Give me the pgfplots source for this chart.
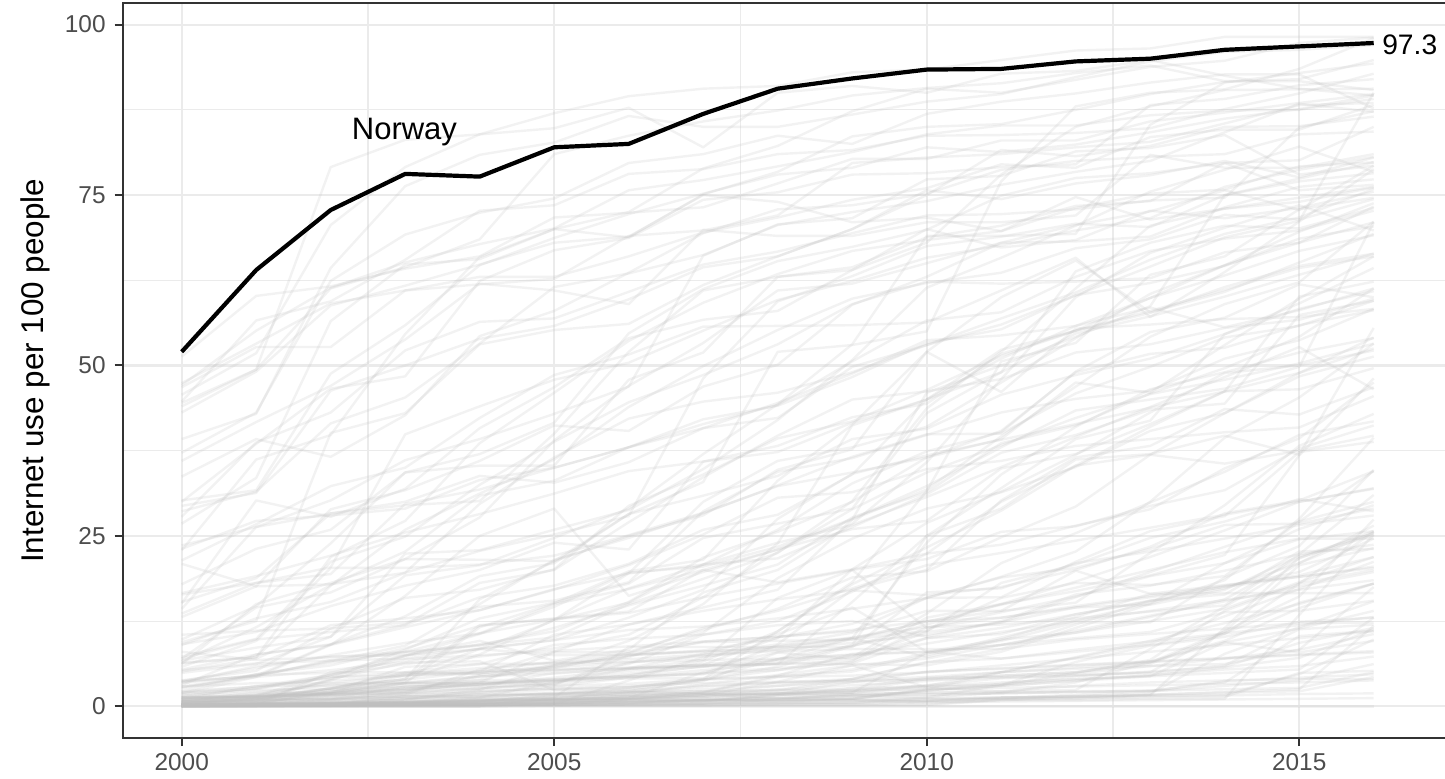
\documentclass[border=0pt]{standalone}
\usepackage{pgfplots}
\usepackage{pgfplotstable}
\pgfplotsset{compat=1.18}
\usepackage{fontspec}
\setmainfont{Liberation Sans}
\definecolor{g92}{HTML}{EBEBEB}
\definecolor{g20}{HTML}{333333}
\definecolor{g30}{HTML}{4D4D4D}
\definecolor{rgray}{HTML}{BEBEBE}
\pgfplotstableread{
name y00 y01 y02 y03 y04 y05 y06 y07 y08 y09 y10 y11 y12 y13 y14 y15 y16
ISL 44.5 49.4 79.1 83.1 83.9 87.0 89.5 90.6 91.0 93.0 93.4 94.8 96.2 96.5 98.2 98.2 98.2
SWE 45.7 51.8 70.6 79.1 83.9 84.8 87.8 82.0 90.0 91.0 90.0 92.8 93.2 94.8 92.5 90.6 89.6
DNK 39.2 42.9 64.3 76.3 80.9 82.7 86.6 85.0 85.0 86.8 88.7 89.8 92.3 94.6 96.0 96.3 97.0
FIN 37.2 43.1 62.4 69.2 72.4 74.5 79.7 81.0 83.7 82.5 86.9 88.7 89.9 91.5 92.7 92.7 87.7
NLD 44.0 49.4 61.3 64.4 68.5 81.0 83.7 85.8 87.4 89.6 90.7 91.4 92.9 94.0 91.7 91.7 90.4
USA 43.1 49.1 58.8 61.7 64.8 68.0 68.9 75.0 74.0 71.0 71.7 69.7 74.7 71.4 73.0 74.6 76.2
CAN 51.3 60.2 61.6 64.2 66.0 71.7 72.4 73.2 76.7 80.3 80.3 83.0 83.0 85.8 87.1 88.5 89.8
GBR 26.8 33.5 56.5 64.8 65.6 70.0 68.8 75.1 78.4 83.6 85.0 85.4 87.5 89.8 91.6 92.0 94.8
DEU 30.2 31.7 48.8 55.9 64.7 68.7 72.2 75.2 78.0 79.0 82.0 81.3 82.4 84.2 86.2 87.6 89.6
FRA 14.3 26.3 30.2 36.1 39.2 42.9 46.9 66.1 70.7 71.6 77.3 77.8 81.4 81.9 83.8 78.0 79.3
JPN 30.0 38.5 46.6 48.4 62.4 66.9 68.7 74.3 75.4 78.0 78.2 79.1 79.5 88.2 89.1 91.1 92.0
KOR 44.7 56.6 59.4 65.5 72.7 73.5 78.1 78.8 81.0 81.6 83.7 83.8 84.1 84.8 87.6 89.9 92.8
AUS 46.8 52.7 52.7 61.0 63.0 63.0 66.0 69.5 71.7 74.3 76.0 79.5 79.0 83.5 84.6 84.6 88.2
NZL 47.4 53.2 59.1 61.0 61.9 62.7 69.0 69.8 72.0 79.7 80.5 81.0 82.0 82.8 85.5 88.2 88.5
ESP 13.6 18.1 20.4 39.9 44.0 47.9 50.4 55.1 59.6 62.4 65.8 67.6 69.8 71.6 76.2 78.7 80.6
ITA 23.1 27.2 28.0 29.0 33.2 35.0 38.0 40.8 44.5 48.8 53.7 54.4 55.8 58.5 55.6 58.1 61.3
PRT 16.4 18.1 19.4 29.7 31.8 35.0 38.0 42.1 44.1 48.3 53.3 55.3 60.3 62.1 64.6 68.6 70.4
GRC 9.1 10.9 14.7 17.7 20.0 24.0 23.0 35.9 38.2 42.4 44.4 51.7 55.1 59.9 63.2 66.8 69.1
POL 7.3 9.9 21.2 24.9 32.5 38.8 44.6 48.6 53.1 59.0 62.3 62.0 62.3 62.8 66.6 68.0 73.3
CZE 9.8 14.7 23.9 34.3 35.3 35.3 47.9 51.9 63.0 64.4 68.8 70.5 73.4 74.1 79.7 75.7 76.5
HUN 7.0 14.5 16.7 21.6 27.7 39.0 47.0 53.3 61.0 62.0 65.0 68.0 70.6 72.6 75.7 72.8 79.3
RUS 2.0 2.9 4.1 8.3 12.9 15.2 18.0 24.7 26.8 29.0 43.0 49.0 63.8 68.0 70.5 70.1 73.1
UKR 0.7 1.2 1.9 3.1 3.5 3.7 4.5 6.6 11.0 17.9 23.3 28.7 35.3 41.0 46.2 48.9 52.5
TUR 3.8 5.2 11.4 12.3 14.6 15.5 18.2 28.6 34.4 36.4 39.8 43.1 45.1 46.3 51.0 53.7 58.3
BRA 2.9 4.5 9.1 13.2 19.1 21.0 28.2 30.9 33.8 39.2 40.7 45.7 48.6 51.0 54.6 58.3 60.9
MEX 5.1 7.0 11.9 12.9 14.1 17.2 19.5 20.8 21.7 26.3 31.1 37.2 39.8 43.5 44.4 57.4 59.5
ARG 7.0 9.8 10.9 11.9 16.0 17.7 20.9 25.9 28.1 34.0 45.0 51.0 55.8 59.9 64.7 68.0 71.0
CHL 16.6 19.1 22.1 25.5 28.2 31.2 34.5 35.9 37.3 41.6 45.0 52.3 55.1 58.0 61.1 64.3 66.0
COL 2.2 2.9 4.6 7.4 9.1 11.0 15.3 21.8 25.6 30.0 36.5 40.4 49.0 51.7 52.6 55.9 58.1
PER 3.1 7.6 9.0 11.6 14.1 17.1 20.7 25.2 30.6 31.4 34.8 36.0 38.2 39.2 40.2 40.9 45.5
VEN 3.4 4.6 4.9 7.5 8.4 12.6 15.2 20.8 25.9 32.7 37.4 40.2 49.1 54.9 57.0 61.9 60.0
CHN 1.8 2.6 4.6 6.2 7.3 8.5 10.5 16.0 22.6 28.9 34.3 38.3 42.3 45.8 47.9 50.3 53.2
IND 0.5 0.7 1.5 1.7 2.0 2.4 2.8 4.0 4.4 5.1 7.5 10.1 12.6 15.1 21.0 26.0 29.5
IDN 0.9 2.0 2.1 2.4 2.6 3.6 4.8 5.8 7.9 6.9 10.9 12.3 14.5 14.9 17.1 22.0 25.4
PAK 1.3 1.3 2.6 5.0 6.2 6.3 6.5 6.8 7.0 7.5 8.0 9.0 10.0 10.9 13.8 14.0 15.5
BGD 0.1 0.1 0.1 0.2 0.2 0.2 1.0 1.8 2.5 3.1 3.7 4.5 5.0 6.6 9.6 14.4 18.0
NGA 0.1 0.3 0.3 0.6 1.3 3.5 5.5 6.8 15.9 20.0 11.5 13.8 16.1 19.1 21.0 24.5 25.7
ETH 0.0 0.0 0.1 0.1 0.2 0.2 0.3 0.4 0.5 0.5 0.8 1.1 1.5 1.9 7.7 11.6 15.4
KEN 0.3 0.6 1.2 2.9 3.0 3.1 7.5 8.0 8.7 10.0 7.2 9.8 13.1 16.5 16.6 16.6 16.6
ZAF 5.3 6.3 6.7 7.0 8.4 7.5 7.6 8.1 8.4 10.0 24.0 34.0 41.0 46.5 49.0 51.9 54.0
EGY 0.6 0.8 2.7 4.0 11.9 12.8 13.7 16.0 18.0 20.0 21.6 25.6 26.4 29.4 31.7 37.8 41.2
MAR 0.7 1.4 2.4 3.4 11.6 15.1 19.8 21.5 33.1 41.3 52.0 46.1 55.4 56.0 56.8 57.1 58.3
DZA 0.5 0.6 1.6 2.2 4.6 5.8 7.4 9.5 10.2 11.2 12.5 14.0 15.2 22.5 29.5 38.2 42.9
IRN 0.9 1.6 4.6 6.9 7.5 8.1 8.8 9.5 10.2 11.0 15.9 19.0 22.7 30.0 39.4 45.3 53.2
SAU 2.2 4.7 6.4 8.0 10.7 12.7 19.5 30.0 36.0 38.0 41.0 47.5 54.0 60.5 64.7 69.6 73.8
ARE 23.6 26.3 28.3 29.5 30.1 40.0 52.0 61.0 63.0 64.0 68.0 78.0 85.0 88.0 90.4 90.5 90.6
ISR 20.9 17.6 17.9 19.6 22.8 25.2 27.9 48.1 59.4 63.1 67.5 68.9 70.8 70.3 75.0 77.4 79.8
THA 3.7 5.6 7.5 9.3 10.7 15.0 17.2 20.0 18.2 20.1 22.4 23.7 26.5 28.9 34.9 39.3 47.5
VNM 0.3 1.3 1.9 3.8 7.6 12.7 17.3 20.8 24.0 26.6 30.7 35.1 39.5 43.9 48.3 52.7 46.5
PHL 2.0 2.5 4.3 4.9 5.2 5.4 5.7 6.0 6.2 9.0 25.0 29.0 36.2 37.0 39.7 36.9 55.5
MYS 21.4 26.7 32.3 35.0 42.3 48.6 51.6 55.7 55.8 55.9 56.3 61.0 65.8 57.1 63.7 71.1 78.8
SGP 36.0 41.7 47.0 53.8 62.0 61.0 59.0 69.9 69.0 69.0 71.0 71.0 72.0 80.9 79.0 79.0 81.0
GHA 0.2 0.3 0.8 1.2 1.7 1.8 2.7 3.9 4.3 5.4 7.8 9.6 12.3 12.3 18.9 23.5 34.7
TZA 0.1 0.2 0.2 0.7 0.9 1.1 1.3 1.6 1.9 2.4 2.9 3.2 4.0 4.4 4.9 5.4 13.0
UGA 0.2 0.2 0.4 0.5 0.7 1.7 2.5 3.7 7.9 9.8 12.5 13.0 14.7 16.2 17.7 19.2 21.9
COD 0.0 0.0 0.1 0.1 0.2 0.2 0.3 0.4 0.4 0.6 0.7 1.2 1.7 2.2 3.0 3.8 6.2
NER 0.0 0.1 0.1 0.2 0.2 0.2 0.3 0.4 0.7 0.8 0.8 1.3 1.4 1.7 2.0 2.2 4.3
TCD 0.0 0.1 0.2 0.3 0.4 0.4 0.6 0.8 1.2 1.5 1.7 1.9 2.1 2.3 2.5 2.7 5.0
SOM 0.0 0.2 0.4 0.6 1.1 1.1 1.1 1.1 1.2 1.2 1.2 1.3 1.4 1.5 1.6 1.8 1.9
ERI 0.1 0.2 0.2 0.4 0.6 0.8 0.9 0.9 1.0 1.0 0.6 0.7 0.8 0.9 1.0 1.1 1.2
MMR 0.0 0.0 0.0 0.0 0.0 0.1 0.2 0.2 0.2 0.2 0.3 1.0 1.1 1.6 11.5 21.8 25.1
NPL 0.2 0.3 0.3 0.4 0.4 0.8 1.1 1.4 1.7 2.0 7.9 9.0 11.1 13.3 15.4 17.6 19.7
LKA 0.6 0.8 1.1 1.5 1.4 1.8 2.2 3.9 5.8 8.8 12.0 15.0 18.3 21.9 25.8 30.0 32.0
CUB 0.5 1.1 3.8 4.4 8.4 9.7 11.2 11.7 12.9 14.3 15.9 16.0 21.2 25.7 27.9 37.3 38.8
HTI 0.2 0.3 0.9 1.7 5.4 6.4 6.9 7.6 8.1 8.4 8.4 8.4 9.8 10.6 11.4 12.2 12.3
BOL 1.4 2.1 3.1 3.5 4.4 5.2 6.2 10.5 12.5 16.8 22.4 30.0 35.3 36.9 35.6 37.5 39.7
ECU 1.5 2.7 4.3 4.5 4.8 6.0 7.2 10.8 18.8 24.6 29.0 31.4 35.1 40.4 43.0 48.9 54.1
KAZ 0.7 1.0 1.7 2.0 2.7 3.0 3.3 4.0 11.0 18.2 31.6 50.6 53.3 63.3 66.0 72.9 74.6
EST 28.6 31.5 41.5 45.3 53.2 61.5 63.5 66.2 70.6 72.5 74.1 76.5 78.4 80.0 84.2 88.4 87.2
LVA 6.3 7.2 21.9 27.2 38.6 46.0 53.6 59.2 63.4 66.8 68.4 69.7 73.1 75.2 75.8 79.2 79.8
LTU 6.4 7.2 17.7 25.9 31.2 36.2 43.9 49.9 55.2 59.8 62.1 63.6 67.2 68.5 72.1 71.4 74.4
ROU 3.6 4.5 6.6 8.9 15.0 21.5 24.7 28.3 32.4 36.6 39.9 40.0 45.9 49.8 54.1 55.8 59.5
BGR 5.4 7.6 9.1 12.0 18.1 20.0 27.0 33.6 39.7 45.0 46.2 48.0 51.9 53.1 55.5 56.7 59.8
MNG 1.3 1.7 2.0 5.8 6.2 9.0 9.9 10.5 11.9 12.5 10.2 12.5 16.4 17.7 19.9 22.3 23.7
AFG 0.0 0.0 0.0 0.1 0.1 1.2 2.1 1.9 1.8 3.6 4.0 5.0 5.5 5.9 7.0 8.3 10.6
ZWE 0.4 0.8 4.0 6.4 6.6 2.4 2.4 3.0 3.5 4.0 6.4 8.4 12.0 15.5 16.4 22.7 23.1
ZMB 0.2 0.5 0.5 1.0 2.0 2.9 4.2 4.9 5.6 6.3 10.0 11.5 13.5 15.4 17.3 21.0 25.5
CMR 0.3 0.3 0.4 0.6 1.0 1.4 2.0 2.9 3.4 3.8 4.3 5.0 5.7 6.4 11.0 20.7 23.2
SEN 0.4 1.0 1.0 2.1 4.4 4.8 5.6 7.7 10.6 14.5 8.0 9.8 10.8 13.1 15.7 21.7 25.7
MLI 0.1 0.2 0.2 0.3 0.4 0.5 0.7 0.8 1.6 1.8 2.0 2.0 2.2 2.3 3.5 10.3 11.1
MDG 0.2 0.3 0.4 0.4 0.5 0.6 0.6 0.7 1.7 1.6 1.7 1.9 2.1 2.2 3.7 4.2 4.7
MOZ 0.1 0.2 0.3 0.4 0.7 0.9 0.8 0.9 1.6 2.7 4.2 4.3 4.8 5.9 6.2 8.3 17.5
AGO 0.1 0.1 0.3 0.4 0.5 1.1 1.9 3.2 4.6 6.0 2.8 3.1 6.5 8.9 10.2 12.4 13.0
SDN 0.0 0.2 0.4 0.5 0.8 1.3 8.7 8.7 8.7 8.7 16.7 17.3 21.0 22.7 24.6 26.6 28.0
IRQ 0.0 0.1 0.5 0.6 0.9 0.9 1.0 0.9 1.0 1.1 2.5 5.0 7.1 9.2 13.2 17.2 21.2
SYR 0.2 0.4 2.1 3.4 4.3 5.6 7.8 11.5 14.0 17.3 20.7 22.5 24.3 26.2 28.1 30.0 31.9
JOR 2.6 4.7 6.0 8.5 11.8 12.9 13.9 20.0 23.0 26.0 27.2 34.9 37.0 41.4 46.2 60.1 62.3
LBN 8.0 6.8 7.2 8.0 9.0 10.1 15.0 18.7 22.5 30.1 43.7 52.0 61.3 70.5 73.0 74.0 76.1
TUN 2.8 4.3 5.3 6.5 8.5 9.7 13.0 17.1 27.5 34.1 36.8 39.1 41.4 43.8 46.2 46.5 49.6
CRI 5.8 9.6 20.3 20.3 20.8 22.1 25.1 28.4 32.3 34.3 36.5 39.2 47.5 46.0 53.0 59.8 66.0
URY 10.5 11.1 11.4 15.9 17.1 20.1 29.4 34.0 39.3 41.8 46.4 51.4 55.1 57.7 61.5 64.6 66.4
IRL 17.9 23.1 25.9 34.3 37.0 41.6 54.7 61.2 65.3 67.4 69.9 74.9 77.5 78.2 79.7 80.1 85.0
AUT 33.7 39.2 36.6 42.7 54.3 58.0 63.6 69.4 72.9 73.5 75.2 78.7 80.0 80.6 81.0 83.9 84.3
CHE 47.1 55.1 61.4 65.1 67.8 70.1 75.7 77.2 79.2 81.3 83.9 85.2 85.2 86.7 87.4 87.5 89.1
BEL 29.4 31.3 46.3 50.0 53.9 55.8 59.7 64.4 66.0 70.0 75.0 81.6 80.7 82.2 85.0 85.1 86.5
LUX 22.9 36.2 39.8 54.6 65.9 70.0 72.5 78.9 82.2 87.3 90.6 90.0 91.9 93.8 94.7 97.3 98.1
BEN 0.2 0.4 0.7 1.0 1.2 1.3 1.5 1.8 1.9 2.2 3.1 4.1 4.5 4.9 6.0 11.3 12.0
BFA 0.1 0.2 0.2 0.4 0.4 0.5 0.6 0.8 0.9 1.1 2.4 3.0 3.7 4.4 9.4 11.4 14.0
BDI 0.1 0.1 0.1 0.2 0.3 0.5 0.7 0.8 0.8 0.9 1.0 1.1 1.2 1.3 1.4 4.9 5.2
CAF 0.1 0.1 0.1 0.2 0.2 0.3 0.3 0.4 1.0 1.8 2.0 2.2 3.0 3.5 3.8 4.0 4.0
GIN 0.1 0.2 0.4 0.5 0.5 0.5 0.6 0.9 0.9 0.9 1.0 1.3 1.5 1.6 1.7 4.7 9.8
LBR 0.0 0.0 0.0 0.0 0.0 0.5 1.0 1.1 1.2 1.5 2.3 3.0 3.8 4.6 5.4 5.9 7.3
SLE 0.1 0.2 0.2 0.2 0.2 0.2 0.2 0.2 0.3 0.3 0.6 0.9 1.3 1.7 2.1 2.5 11.8
MWI 0.1 0.2 0.3 0.3 0.3 0.4 0.4 1.0 0.7 1.1 2.3 3.3 4.4 5.1 5.8 9.3 11.5
RWA 0.1 0.2 0.2 0.3 0.4 0.6 1.1 2.1 4.5 7.7 8.0 7.0 8.0 9.0 10.6 18.0 20.0
TGO 0.8 1.0 1.0 1.2 1.5 1.8 2.0 2.2 2.4 2.6 3.0 3.5 4.0 4.5 5.7 7.1 11.3
GMB 0.9 1.3 1.8 3.4 3.3 3.8 5.2 6.2 6.9 7.6 9.2 10.9 12.5 14.0 15.6 17.1 18.5
MRT 0.2 0.3 0.4 0.4 0.5 0.7 1.0 1.4 1.9 2.3 4.0 4.5 5.0 6.2 10.7 15.2 18.0
LAO 0.1 0.2 0.3 0.3 0.4 0.9 1.2 1.6 3.6 6.0 7.0 9.0 10.8 12.5 14.3 18.2 21.9
KHM 0.1 0.1 0.2 0.3 0.3 0.3 0.5 0.5 0.5 0.5 1.3 3.1 4.9 6.8 14.0 18.0 25.6
YEM 0.1 0.1 0.5 0.6 0.9 1.0 1.2 5.0 6.9 10.0 12.4 14.9 17.4 20.0 22.6 24.6 24.6
TJK 0.0 0.1 0.1 0.1 0.1 0.3 3.8 7.2 8.8 10.1 11.6 13.0 14.5 16.0 17.5 19.0 20.5
KGZ 1.0 3.0 3.0 3.9 5.1 10.5 12.0 14.0 15.7 17.0 16.3 17.5 20.0 23.4 28.3 30.2 34.5
UZB 0.5 0.6 1.1 1.9 2.6 3.3 6.4 7.5 9.1 17.1 20.0 30.2 36.5 38.2 43.6 42.8 46.8
PNG 0.8 0.9 1.3 1.4 1.6 1.7 1.7 1.8 1.2 1.6 1.3 2.0 3.5 6.5 9.4 7.9 9.6
HND 1.2 1.4 2.6 4.8 5.6 6.5 7.8 9.4 9.6 9.8 11.1 15.9 18.1 17.8 19.1 27.1 30.0
GTM 0.7 1.7 3.4 4.6 5.1 5.7 6.5 7.3 8.3 9.3 10.5 12.3 16.0 19.7 23.4 27.1 34.5
NIC 1.0 1.5 1.7 1.9 2.3 2.6 2.8 3.9 5.3 7.3 10.0 10.6 13.5 15.5 17.6 19.7 24.6
PRY 0.7 1.1 1.8 2.1 3.5 7.9 8.0 11.2 14.3 18.9 19.8 24.8 29.3 36.9 43.0 48.4 51.3
DOM 3.7 4.4 6.8 7.9 8.9 11.5 14.8 17.7 20.8 27.7 31.4 38.6 41.2 45.9 49.6 54.2 61.3
SLV 1.2 1.5 1.9 2.5 3.2 4.2 5.5 6.1 10.1 12.1 15.9 18.9 20.3 23.1 26.6 26.8 29.0
BWA 2.9 3.4 3.4 3.4 3.4 3.3 4.3 5.3 6.3 6.2 6.0 8.0 11.5 15.0 18.5 27.5 39.4
NAM 1.6 2.4 2.6 3.4 3.8 4.0 4.4 4.8 5.3 6.5 11.6 12.0 12.9 13.9 14.8 22.3 31.0
GAB 1.2 1.4 1.9 2.6 3.0 4.9 5.5 5.8 6.2 6.7 13.0 15.0 16.9 19.2 22.2 36.8 48.1
COG 0.0 0.0 0.2 0.5 0.8 1.5 1.7 2.0 4.3 4.5 5.0 5.6 6.1 6.6 7.1 7.6 8.1
CIV 0.2 0.4 0.5 0.8 0.8 1.0 1.5 1.8 1.9 2.0 2.7 2.2 2.4 8.4 14.6 21.0 26.5
LBY 0.2 0.4 2.2 2.8 3.5 3.9 4.3 4.7 9.0 10.8 14.0 14.0 19.9 16.5 17.8 19.0 20.3
AZE 0.1 0.3 5.0 5.0 4.8 8.0 12.0 14.5 17.1 27.4 46.0 50.0 54.2 58.7 75.0 77.0 78.2
GEO 0.5 1.0 1.6 2.6 3.9 6.1 7.5 8.2 10.0 20.1 26.9 31.5 36.9 43.1 48.9 50.0 52.2
ARM 1.3 1.6 2.0 4.6 4.9 5.3 5.6 6.0 6.2 15.3 25.0 32.0 39.2 41.9 54.6 59.1 64.3
BLR 1.9 4.3 9.0 16.2 25.0 29.0 16.2 19.7 23.0 27.4 31.8 39.6 46.9 54.2 59.0 62.2 71.1
MDA 1.3 1.5 3.8 7.4 10.6 14.6 19.6 20.5 23.4 27.5 32.3 38.0 43.4 45.0 46.6 49.8 71.0
BIH 1.1 1.2 2.6 4.0 15.7 21.3 25.0 28.0 34.7 37.7 52.0 60.0 65.4 57.8 60.8 65.1 69.3
ALB 0.1 0.3 0.4 1.0 2.4 6.0 9.6 15.0 23.9 41.2 45.0 49.0 54.7 57.2 60.1 63.3 66.4
HRV 6.6 11.6 17.8 22.7 30.9 33.1 38.0 41.4 44.2 50.6 56.6 57.8 63.0 66.8 68.6 69.8 72.7
SVN 15.1 30.2 27.8 31.9 40.8 46.8 54.0 56.7 58.0 64.0 70.0 67.3 68.4 72.7 71.6 73.1 75.5
SVK 9.4 12.5 40.1 43.0 53.1 55.2 56.1 61.8 66.0 70.0 75.7 74.4 76.7 77.9 80.0 77.6 80.5
CYP 15.3 18.8 28.3 30.0 33.8 32.8 35.8 40.8 42.3 49.8 53.0 56.9 60.7 65.5 69.3 71.7 75.9
MLT 13.1 17.6 28.9 31.7 36.0 41.2 40.4 46.9 50.1 58.9 63.0 68.0 68.2 68.9 73.2 76.2 77.3
QAT 4.9 6.2 10.2 19.2 20.7 24.7 29.0 37.0 44.3 53.1 69.0 69.0 69.3 85.3 91.5 92.9 94.3
KWT 6.7 8.6 10.2 22.4 22.9 25.9 28.8 34.8 42.0 50.8 61.4 65.8 70.5 75.5 78.7 82.1 78.4
BHR 6.2 15.0 18.1 21.6 21.5 21.3 28.2 32.9 52.0 53.0 55.0 77.0 88.0 90.0 90.5 93.5 98.0
OMN 3.5 5.9 7.3 7.5 9.6 6.7 8.3 16.7 20.0 26.8 35.8 48.0 60.0 66.5 70.2 73.5 69.8
HKG 27.8 38.7 43.1 52.2 56.4 56.9 60.8 64.8 66.7 69.4 72.0 72.2 72.9 74.2 74.6 84.9 87.3
BRN 9.0 12.9 15.3 19.6 29.7 36.5 42.2 44.7 46.0 49.0 53.0 56.0 60.3 64.5 68.8 71.2 90.0
BTN 0.4 0.9 2.4 2.9 3.2 3.9 4.5 5.9 6.6 7.2 13.6 21.0 25.4 29.9 34.4 39.8 41.8
GNB 0.2 0.3 1.0 1.4 1.8 1.9 2.1 2.2 2.3 2.3 2.5 2.7 2.9 3.1 3.3 3.5 3.8
COM 0.3 0.4 0.6 1.0 1.3 2.0 2.2 2.5 3.0 3.5 5.1 5.5 6.0 6.5 7.0 7.5 7.9
DJI 0.2 0.5 0.5 0.6 0.8 1.0 1.3 1.6 2.3 4.0 6.5 7.0 8.3 9.5 10.7 11.9 13.1
LSO 0.2 0.2 0.3 1.5 2.2 2.6 3.0 3.4 3.6 3.7 3.9 4.2 4.6 5.0 11.0 16.1 27.4
SWZ 0.9 1.3 1.8 2.4 3.2 3.7 4.1 4.1 6.9 8.9 11.0 18.1 20.8 24.7 27.1 30.4 28.6
TLS 0.0 0.0 0.0 0.0 0.0 0.1 0.1 0.1 0.2 0.2 0.2 0.9 0.9 1.1 1.1 13.4 25.2
SLB 0.5 0.5 0.5 0.6 0.7 0.8 1.6 2.0 3.0 4.0 5.0 6.0 7.0 8.0 9.0 10.0 11.0
TKM 0.1 0.2 0.3 0.4 0.8 1.0 1.3 1.4 1.8 2.0 3.0 5.0 7.2 9.6 12.2 15.0 18.0
PRK 0.0 0.0 0.0 0.0 0.0 0.0 0.0 0.0 0.0 0.0 0.0 0.0 0.0 0.0 0.0 0.0 0.0
}\raw
\begin{document}%
\pgfplotstabletranspose[colnames from=name]{\data}{\raw}%
\pgfplotstablegetcolsof{\data}%
\pgfmathtruncatemacro{\ncols}{\pgfplotsretval-1}%
\begin{tikzpicture}
\begin{axis}[
  at={(0,0)}, anchor=south west,
  x=37.25pt, y=3.4085pt,
  xmin=1999.208, xmax=2017.2, ymin=-4.65, ymax=103.1,
  xtick={2000,2005,2010,2015}, xticklabels={2000,2005,2010,2015},
  ytick={0,25,50,75,100},
  minor xtick={2002.5,2007.5,2012.5},
  minor ytick={12.5,37.5,62.5,87.5},
  grid=both,
  major grid style={draw=g92, line width=1.1pt},
  minor grid style={draw=g92, line width=0.55pt},
  tick align=outside, tick pos=left,
  major tick length=4pt, minor tick length=0pt,
  every tick/.append style={draw=g20, line width=1pt},
  axis line style={draw=g20, line width=1pt},
  /pgf/number format/assume math mode=true,
  ticklabel style={font=\fontsize{12.2}{14}\selectfont, text=g30, inner sep=0pt},
  xticklabel style={anchor=north, yshift=-3.5pt},
  yticklabel style={anchor=east, xshift=-4.35pt},
  ylabel={Internet use per 100 people},
  every axis y label/.style={at={(rel axis cs:0,0.5)}, xshift=-43.85pt, rotate=90, anchor=center, font=\fontsize{15.7}{18}\selectfont},
]
\pgfplotsinvokeforeach{1,...,\ncols}{
  \addplot[draw=rgray, draw opacity=0.2, line width=1.2pt, line join=round, forget plot] table[x expr=\coordindex+2000, y index=#1] {\data};
}
\addplot[black, line width=2.1pt, line join=round] coordinates {
(2000,52.0) (2001,64.0) (2002,72.8) (2003,78.1) (2004,77.7) (2005,82.0) (2006,82.5) (2007,86.9) (2008,90.6) (2009,92.1) (2010,93.4) (2011,93.5) (2012,94.6) (2013,95.0) (2014,96.3) (2015,96.8) (2016,97.3)
};
\node[font=\fontsize{15.5}{18}\selectfont, anchor=base, inner sep=0pt] at (axis cs:2002.99,83.1) {Norway};
\node[font=\fontsize{14.1}{17}\selectfont, anchor=base west, inner sep=0pt] at (axis cs:2016.11,95.6) {97.3};
\end{axis}
\pgfresetboundingbox
\path[use as bounding box] (-61.35pt,-20pt) rectangle (661.15pt,369pt);
\end{tikzpicture}%
\end{document}
